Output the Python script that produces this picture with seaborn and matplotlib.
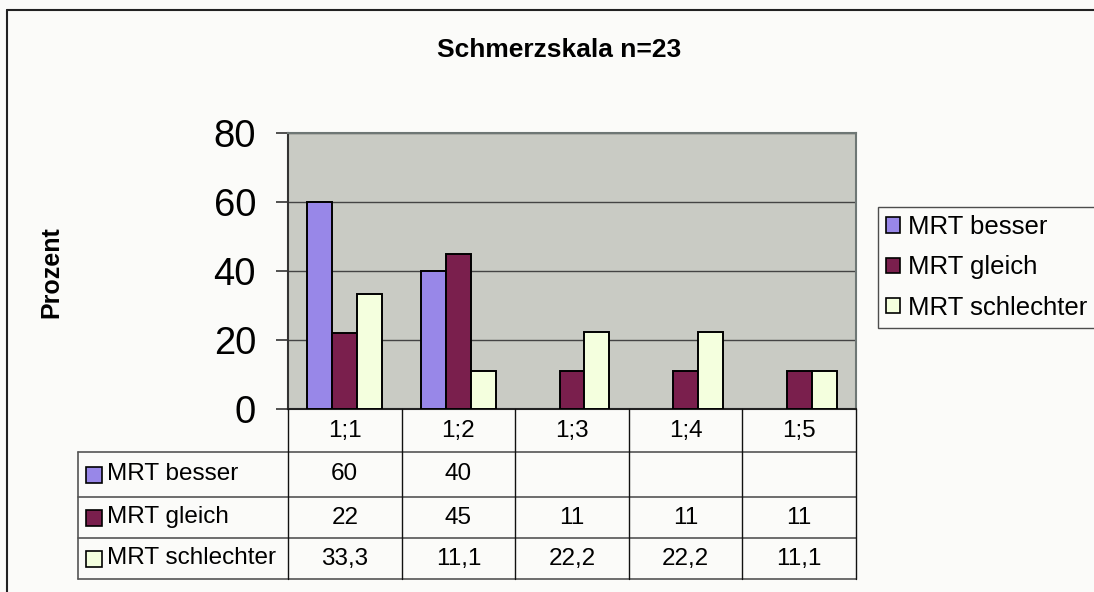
import numpy as np
import pandas as pd
import matplotlib
matplotlib.use("Agg")
import matplotlib.pyplot as plt
from matplotlib.patches import Patch, Rectangle
from matplotlib.lines import Line2D
from matplotlib.transforms import blended_transform_factory
import seaborn as sns

# --- data -------------------------------------------------------------
categories = ["1;1", "1;2", "1;3", "1;4", "1;5"]
series_names = ["MRT besser", "MRT gleich", "MRT schlechter"]
mrt_besser = [60, 40, np.nan, np.nan, np.nan]
mrt_gleich = [22, 45, 11, 11, 11]
mrt_schlechter = [33.3, 11.1, 22.2, 22.2, 11.1]
y_ticks = [0, 20, 40, 60, 80]
title = "Schmerzskala n=23"
y_label = "Prozent"

colors = ["#9887E8", "#7A1F4D", "#F4FFDE"]
plot_bg = "#C9CBC4"
fig_bg = "#FBFBF9"

series_values = [mrt_besser, mrt_gleich, mrt_schlechter]
df = pd.DataFrame(
    [(c, s, v) for s, vals in zip(series_names, series_values)
     for c, v in zip(categories, vals)],
    columns=["Kategorie", "Reihe", "Prozent"],
)

sns.set_theme(style="white")
plt.rcParams["font.family"] = ["Liberation Sans", "DejaVu Sans"]
plt.rcParams.update({"text.color": "black", "axes.labelcolor": "black",
                     "xtick.color": "black", "ytick.color": "black"})

W, H = 1094, 592
fig = plt.figure(figsize=(W / 100, H / 100), dpi=100, facecolor=fig_bg)


def fx(px):
    return px / W


def fy(py):
    return 1 - py / H


# plot area
ax_l, ax_r, ax_t, ax_b = 288, 856, 133, 409
ax = fig.add_axes([fx(ax_l), fy(ax_b), fx(ax_r - ax_l), (ax_b - ax_t) / H])
ax.set_facecolor(plot_bg)

sns.barplot(
    data=df, x="Kategorie", y="Prozent", hue="Reihe",
    order=categories, hue_order=series_names, palette=colors,
    width=0.66, edgecolor="black", linewidth=1.4, errorbar=None,
    legend=False, ax=ax, saturation=1, zorder=3,
)

ax.set_ylim(0, 80)
ax.set_xlim(-0.5, len(categories) - 0.5)
ax.set_yticks(y_ticks)
ax.set_yticklabels([str(t) for t in y_ticks], fontsize=27.5)
ax.tick_params(axis="y", direction="out", length=9, width=1.2,
               color="#333333", pad=14, left=True, labelcolor="black")
ax.tick_params(axis="x", bottom=False, labelbottom=False)
ax.set_xlabel("")
ax.set_ylabel("")
ax.yaxis.grid(True, color="#444444", linewidth=1.0, zorder=0)
ax.set_axisbelow(True)
for side, col in [("left", "#333333"), ("top", "#6E7775"),
                  ("right", "#6E7775"), ("bottom", "#222222")]:
    ax.spines[side].set_visible(True)
    ax.spines[side].set_color(col)
    ax.spines[side].set_linewidth(1.5)

# title and axis label
fig.text(fx(559), fy(50), title, ha="center", va="center",
         fontsize=19, fontweight="bold")
fig.text(fx(51), fy(272), y_label, ha="center", va="center",
         rotation=90, fontsize=18, fontweight="bold")

# data table under the plot
tr = blended_transform_factory(ax.transData, fig.transFigure)
row_edges = [409, 452, 497, 538, 579]
left_col = 78
line_kw = dict(color="#111111", linewidth=1.0)

# horizontal lines
for yy in row_edges[1:]:
    fig.add_artist(Line2D([fx(left_col), fx(ax_r)], [fy(yy), fy(yy)],
                          transform=fig.transFigure, color="#555555",
                          linewidth=1.2))
# vertical lines at category boundaries
for b in np.arange(len(categories) + 1) - 0.5:
    fig.add_artist(Line2D([b, b], [fy(row_edges[0]), fy(row_edges[-1])],
                          transform=tr, **line_kw))
fig.add_artist(Line2D([fx(left_col), fx(left_col)],
                      [fy(row_edges[1]), fy(row_edges[-1])],
                      transform=fig.transFigure, color="#555555",
                      linewidth=1.2))

table_fs = 17.5
# header row with category names
for i, c in enumerate(categories):
    fig.text(i, fy((row_edges[0] + row_edges[1]) / 2), c, transform=tr,
             ha="center", va="center", fontsize=table_fs)


def fmt(v):
    if np.isnan(v):
        return ""
    if float(v).is_integer():
        return str(int(v))
    return f"{v:.1f}".replace(".", ",")


for r, (name, vals, col) in enumerate(zip(series_names, series_values, colors)):
    yc = (row_edges[r + 1] + row_edges[r + 2]) / 2
    fig.add_artist(Rectangle((fx(86), fy(yc + 8)), fx(16), 16 / H,
                             transform=fig.transFigure, facecolor=col,
                             edgecolor="black", linewidth=1.2))
    fig.text(fx(107), fy(yc), name, ha="left", va="center",
             fontsize=table_fs)
    for i, v in enumerate(vals):
        fig.text(i, fy(yc), fmt(v), transform=tr, ha="center", va="center",
                 fontsize=table_fs)

# legend
handles = [Patch(facecolor=c, edgecolor="black", linewidth=1.2)
           for c in colors]
leg = fig.legend(
    handles, series_names, loc="upper left",
    bbox_to_anchor=(fx(878), fy(207)), fontsize=18.5,
    frameon=True, fancybox=False, edgecolor="#222222",
    handlelength=0.55, handleheight=0.55, handletextpad=0.3,
    labelspacing=0.63, borderpad=0.32, borderaxespad=0,
)
leg.get_frame().set_linewidth(1.0)
leg.get_frame().set_facecolor(fig_bg)

# outer chart frame (left and top edges visible)
fig.add_artist(Line2D([fx(7), fx(7)], [fy(10), 0], transform=fig.transFigure,
                      color="#222222", linewidth=1.5))
fig.add_artist(Line2D([fx(7), 1], [fy(10), fy(10)], transform=fig.transFigure,
                      color="#222222", linewidth=1.5))

fig.savefig("out.png", dpi=100, facecolor=fig_bg)
